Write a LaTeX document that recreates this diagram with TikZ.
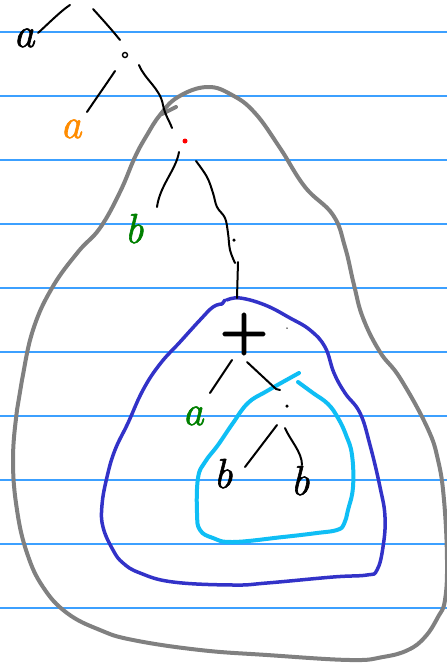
\documentclass[tikz,border=0pt]{standalone}
\usepackage{fontspec}
\newfontfamily\heavyfont[FakeBold=4]{Latin Modern Roman}
\newfontfamily\penfont[FakeBold=1.5]{Latin Modern Roman}
\begin{document}
\begin{tikzpicture}[x=1pt,y=-1pt,
  rule/.style={draw={rgb,255:red,60;green,160;blue,255},line width=1.2pt},
  stroke/.style={draw=black,line width=2pt,line cap=round,line join=round},
  ring/.style={line width=4pt,line cap=round,line join=round},
  letter/.style={inner sep=0pt,anchor=base,font=\fontsize{42}{42}\selectfont\penfont\itshape},
  blob/.style={circle,fill=black,inner sep=0pt,minimum size=4pt},
]
\definecolor{pengray}{RGB}{128,128,128}
\definecolor{pennavy}{RGB}{50,50,200}
\definecolor{pencyan}{RGB}{15,190,245}
\definecolor{penorange}{RGB}{255,140,0}
\definecolor{pengreen}{RGB}{0,128,0}
\definecolor{penred}{RGB}{255,0,0}

\fill[white] (0,0) rectangle (447,667);
\useasboundingbox (0,0) rectangle (447,667);

% ruled paper
\foreach \k in {0,...,9}
  \draw[rule] (0,{32+64*\k}) -- (447,{32+64*\k});

% outer grey loop
\draw[ring,draw=pengray] plot[smooth cycle,tension=0.7] coordinates {
  (160,115) (178,97) (207,87) (232,95) (255,113) (280,148) (305,187)
  (333,215) (345,247) (354,285) (363,318) (380,352) (400,378)
  (427,427) (438,460) (444,500) (447,560) (445,600) (438,617) (425,637)
  (408,650) (383,657) (350,660) (267,655) (200,650) (133,640) (100,630)
  (67,613) (43,587) (27,553) (17,510) (13,460) (17,410) (22,380)
  (33,330) (52,288) (78,252) (100,228) (120,192) (135,157) (147,135)};
\draw[ring,draw=pengray] (162,114) -- (176,107);

% middle navy loop
\draw[ring,line width=3.5pt,draw=pennavy] plot[smooth,tension=0.7] coordinates {
  (227,300) (240,298) (265,305) (290,318) (310,330) (325,347) (334,373)
  (345,393) (360,413) (370,445) (380,487) (385,517) (383,547)
  (377,570) (367,575) (333,577) (267,583) (233,585) (173,582) (140,573)
  (123,563) (113,550) (103,527) (102,505) (107,477) (115,450) (128,423)
  (143,390) (160,364) (180,342) (200,320) (213,307) (222,304)};
\draw[ring,line width=3.5pt,draw=pennavy] (222,304) -- (225,300);

% inner cyan loop
\draw[ring,draw=pencyan] plot[smooth,tension=0.7] coordinates {
  (299,373) (267,391) (248,403) (233,423) (218,445) (205,462) (198,478)
  (197,513) (200,530) (213,538) (233,542) (283,537) (317,533) (337,530)
  (344,524) (348,510) (353,487) (352,455) (346,435) (338,418) (328,404)
  (313,393) (298,382)};

% labels
\node[letter,text=black] (a0) at (24,47) {a};
\node[letter,text=penorange] (a1) at (71,138) {a};
\node[letter,text=pengreen] (b1) at (134,243) {b};
\node[letter,text=pengreen] (a2) at (193,425) {a};
\node[letter,text=black] (b2) at (223,488) {b};
\node[letter,text=black] (b3) at (300,495) {b};
\node[inner sep=0pt,font=\fontsize{64}{64}\selectfont\heavyfont] (plus) at (244,334) {+};

% inner points of the tree
\node[circle,draw=black,line width=1.4pt,inner sep=0pt,minimum width=4pt,minimum height=5pt] (n0) at (125,55) {};
\node[blob,fill=penred,minimum size=5pt] (n1) at (185,141) {};
\node[blob,minimum size=3.5pt] (n2) at (234,240) {};
\node[blob,minimum size=3.5pt] (n3) at (287,406) {};
\node[blob,minimum size=1.5pt] (n4) at (287,328) {};

% edge end points
\coordinate (e0a) at (38,33);   \coordinate (e0b) at (70,5);
\coordinate (e1a) at (93,9);    \coordinate (e1b) at (120,40);
\coordinate (e2a) at (115,71);  \coordinate (e2b) at (87,112);
\coordinate (e3a) at (139,65);  \coordinate (e3b) at (172,128);
\coordinate (e4a) at (179,152); \coordinate (e4b) at (157,207);
\coordinate (e5a) at (196,161); \coordinate (e5b) at (237,298);
\coordinate (e6a) at (232,360); \coordinate (e6b) at (210,393);
\coordinate (e7a) at (247,362); \coordinate (e7b) at (280,390);
\coordinate (e8a) at (277,425); \coordinate (e8b) at (245,467);
\coordinate (e9a) at (285,428); \coordinate (e9b) at (302,465);

% tree edges
\draw[stroke] (e0a) .. controls (50,22) and (62,10) .. (e0b);
\draw[stroke] (e1a) .. controls (103,20) and (112,30) .. (e1b);
\draw[stroke] (e2a) .. controls (105,86) and (95,100) .. (e2b);
\draw[stroke] (e3a) .. controls (145,80) and (160,88) .. (163,105) .. controls (165,115) and (169,120) .. (e3b);
\draw[stroke] (e4a) .. controls (176,170) and (160,185) .. (e4b);
\draw[stroke] plot[smooth,tension=0.6] coordinates {(e5a) (207,177) (213,193) (217,207) (225,218) (228,233) (230,250) (235,263)};
\draw[stroke] (238,262) -- (e5b);
\draw[stroke] (e6a) -- (e6b);
\draw[stroke] (e7a) -- (276,389) -- (e7b);
\draw[stroke] (e8a) -- (e8b);
\draw[stroke] (e9a) .. controls (290,440) and (302,452) .. (e9b);
\end{tikzpicture}
\end{document}
